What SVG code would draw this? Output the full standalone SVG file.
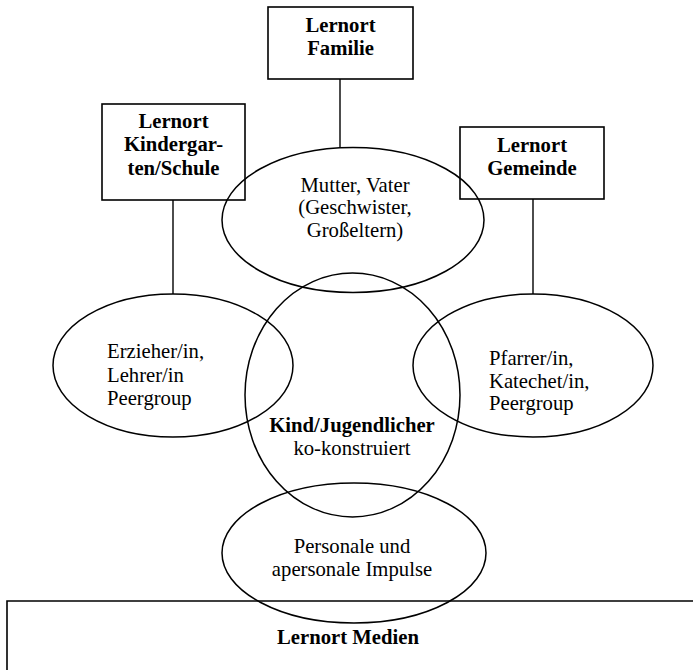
<svg xmlns="http://www.w3.org/2000/svg" width="693" height="670" viewBox="0 0 693 670">
<style>
.box{fill:none;stroke:#000;stroke-width:1.6}
.ell{fill:none;stroke:#000;stroke-width:1.5}
.ln{fill:none;stroke:#000;stroke-width:1.4}
.b{font-family:"Liberation Serif","Times New Roman",serif;font-weight:bold;font-size:20.7px;fill:#000;text-anchor:middle}
.r{font-family:"Liberation Serif","Times New Roman",serif;font-size:20.7px;fill:#000}
.c{text-anchor:middle}
</style>
<rect width="693" height="670" fill="#fff"/>
<g id="connectors">
<line class="ln" x1="340" y1="79" x2="340" y2="148"/>
<line class="ln" x1="173" y1="200" x2="173" y2="294"/>
<line class="ln" x1="533" y1="199" x2="533" y2="294"/>
</g>
<g id="lernort-familie">
<rect class="box" x="268" y="7" width="145" height="72"/>
<text class="b" x="340.5" y="32">Lernort</text>
<text class="b" x="340.5" y="55">Familie</text>
</g>
<g id="lernort-kindergarten">
<rect class="box" x="102" y="104" width="143" height="96"/>
<text class="b" x="173.5" y="128">Lernort</text>
<text class="b" x="173.5" y="151">Kindergar-</text>
<text class="b" x="173.5" y="175">ten/Schule</text>
</g>
<g id="lernort-gemeinde">
<rect class="box" x="460" y="127" width="144" height="72"/>
<text class="b" x="532" y="152">Lernort</text>
<text class="b" x="532" y="175">Gemeinde</text>
</g>
<g id="familie-ellipse">
<ellipse class="ell" cx="353" cy="220" rx="131" ry="72.5"/>
<text class="r c" x="355" y="192">Mutter, Vater</text>
<text class="r c" x="355" y="214">(Geschwister,</text>
<text class="r c" x="355" y="237">Großeltern)</text>
</g>
<g id="schule-ellipse">
<ellipse class="ell" cx="173" cy="365.5" rx="120" ry="71.5"/>
<text class="r" x="107" y="358">Erzieher/in,</text>
<text class="r" x="107" y="382">Lehrer/in</text>
<text class="r" x="107" y="405">Peergroup</text>
</g>
<g id="gemeinde-ellipse">
<ellipse class="ell" cx="533" cy="365.5" rx="120" ry="71.5"/>
<text class="r" x="489" y="365">Pfarrer/in,</text>
<text class="r" x="489" y="388">Katechet/in,</text>
<text class="r" x="489" y="410">Peergroup</text>
</g>
<g id="kind">
<ellipse class="ell" cx="352.5" cy="395" rx="107.5" ry="122"/>
<text class="b" x="352" y="432">Kind/Jugendlicher</text>
<text class="r c" x="352" y="455">ko-konstruiert</text>
</g>
<g id="impulse-ellipse">
<ellipse class="ell" cx="354" cy="553" rx="132" ry="70"/>
<text class="r c" x="352" y="553">Personale und</text>
<text class="r c" x="352" y="576">apersonale Impulse</text>
</g>
<g id="lernort-medien">
<polyline class="box" points="7,670 7,601 693,601"/>
<text class="b" x="348" y="644">Lernort Medien</text>
</g>
</svg>
